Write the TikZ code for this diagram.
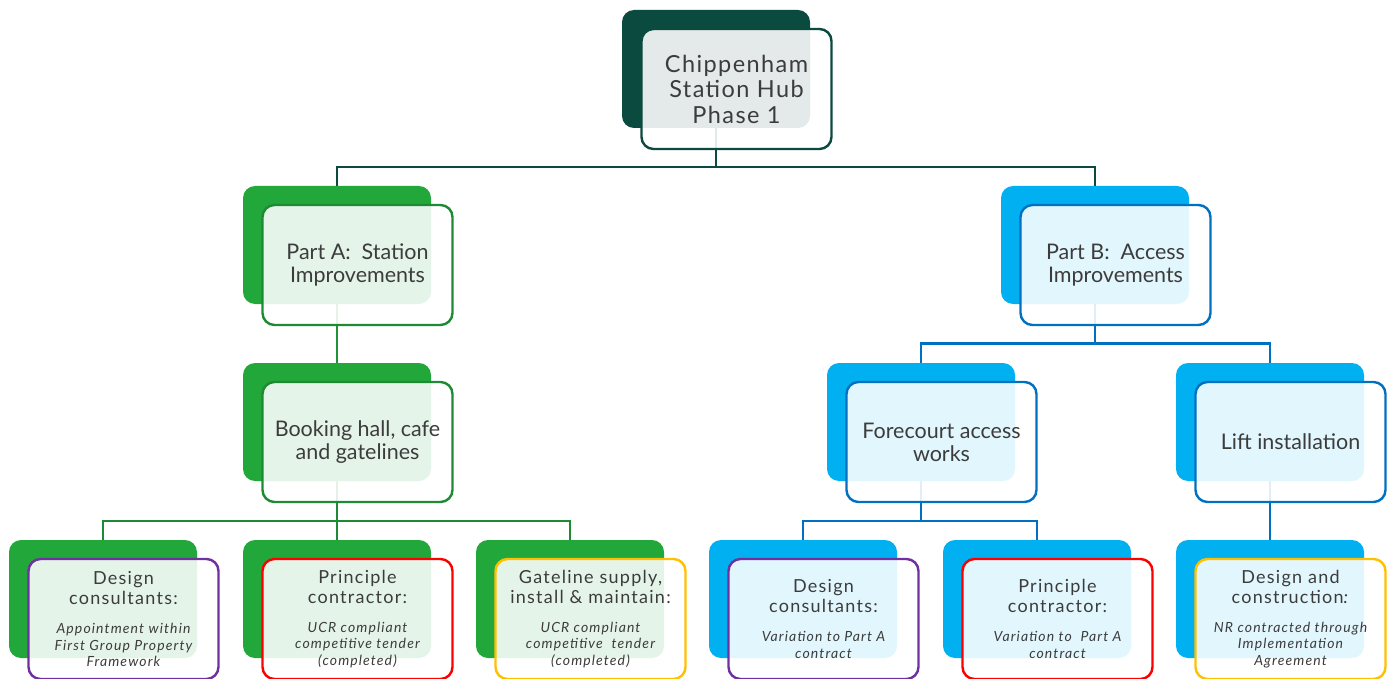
\documentclass[tikz,border=0pt]{standalone}
\usepackage{fontspec}
\setmainfont{Lato}
\usetikzlibrary{backgrounds}

\definecolor{hubdark}{HTML}{0B4A3E}
\definecolor{agreen}{HTML}{21A73A}
\definecolor{agreenline}{HTML}{1E8A34}
\definecolor{bblue}{HTML}{00B0F0}
\definecolor{bblueline}{HTML}{0070C0}
\definecolor{cpurple}{HTML}{7030A0}
\definecolor{cred}{HTML}{FF0000}
\definecolor{cgold}{HTML}{FFC000}
\definecolor{txtgrey}{HTML}{3C3C3C}

\tikzset{
  back/.style={rounded corners=12pt, minimum width=188pt, minimum height=118pt,
    anchor=north west, inner sep=0pt, outer sep=0pt, fill=#1},
  front/.style={rounded corners=12pt, minimum width=190pt, minimum height=120pt,
    anchor=north west, inner sep=2pt, outer sep=0pt, draw=#1, line width=2.4pt,
    fill=white, fill opacity=0.885, text opacity=1, draw opacity=1,
    align=center, text=txtgrey, font=\fontsize{21.5}{23}\selectfont},
  link/.style={draw=#1, line width=2.5pt},
  toptext/.style={font=\fontsize{23.5}{25.5}\selectfont\addfontfeatures{LetterSpace=6}},
  leaftext/.style={font=\fontsize{18}{20}\selectfont\addfontfeatures{LetterSpace=7}}
}

% one card: coloured back panel with a translucent outlined panel in front
\newcommand\orgcard[7][]{%
  \node[back=#5] (#2b) at (#3,#4) {};
  \node[front=#6,#1] (#2) at (#3+19.5,#4+19) {#7};
}
% smaller italic line of a procurement card
\newcommand\leafline[1]{{\fontsize{14}{16.5}\selectfont\itshape\addfontfeatures{LetterSpace=8}#1}}

\begin{document}
\begin{tikzpicture}[x=1pt,y=-1pt]
\useasboundingbox (0,0) rectangle (1394,679);

% top of the tree
\orgcard[toptext]{hub}{622}{10}{hubdark}{hubdark}{Chippenham\\Station Hub\\Phase 1}

% the two parts
\orgcard{pa}{243}{186}{agreen}{agreenline}{Part A:~ Station\\Improvements}
\orgcard{pb}{1001}{186}{bblue}{bblueline}{Part B:~ Access\\Improvements}

% work packages
\orgcard{bh}{243}{363}{agreen}{agreenline}{Booking hall, cafe\\and gatelines}
\orgcard{fc}{827}{363}{bblue}{bblueline}{Forecourt access\\works}
\orgcard{lf}{1176}{363}{bblue}{bblueline}{Lift installation}

% procurement routes
\orgcard[leaftext]{da}{9}{540}{agreen}{cpurple}{Design\\consultants:\\[9pt]\leafline{Appointment within}\\[-3.5pt]\leafline{First Group Property}\\[-3.5pt]\leafline{Framework}}
\orgcard[leaftext]{ca}{243}{540}{agreen}{cred}{Principle\\contractor:\\[9pt]\leafline{UCR compliant}\\[-3.5pt]\leafline{competitive tender}\\[-3.5pt]\leafline{(completed)}}
\orgcard[leaftext]{ga}{476}{540}{agreen}{cgold}{Gateline supply,\\install \& maintain:\\[9pt]\leafline{UCR compliant}\\[-3.5pt]\leafline{competitive~ tender}\\[-3.5pt]\leafline{(completed)}}
\orgcard[leaftext]{db}{709}{540}{bblue}{cpurple}{Design\\consultants:\\[9pt]\leafline{Variation to Part A}\\[-3.5pt]\leafline{contract}}
\orgcard[leaftext]{cb}{943}{540}{bblue}{cred}{Principle\\contractor:\\[9pt]\leafline{Variation to~ Part A}\\[-3.5pt]\leafline{contract}}
\orgcard[leaftext]{dc}{1176}{540}{bblue}{cgold}{Design and\\construction\textit{:}\\[9pt]\leafline{NR contracted through}\\[-3.5pt]\leafline{Implementation}\\[-3.5pt]\leafline{Agreement}}

% connectors, kept behind the cards
\begin{scope}[on background layer]
  \draw[link=hubdark] (hubb.south) -- ++(0,39) -| (pab.north);
  \draw[link=hubdark] (hubb.south) -- ++(0,39) -| (pbb.north);

  \draw[link=agreenline!70!agreen] (pab.south) -- (bhb.north);
  \draw[link=agreenline] (bhb.south) -- ++(0,40) -| (dab.north);
  \draw[link=agreenline] (bhb.south) -- (cab.north);
  \draw[link=agreenline] (bhb.south) -- ++(0,40) -| (gab.north);

  \draw[link=bblueline] (pbb.south) -- ++(0,39.5) -| (fcb.north);
  \draw[link=bblueline] (pbb.south) -- ++(0,39.5) -| (lfb.north);
  \draw[link=bblueline] (fcb.south) -- ++(0,40) -| (dbb.north);
  \draw[link=bblueline] (fcb.south) -- ++(0,40) -| (cbb.north);
  \draw[link=bblueline] (lfb.south) -- (dcb.north);
\end{scope}
\end{tikzpicture}
\end{document}
